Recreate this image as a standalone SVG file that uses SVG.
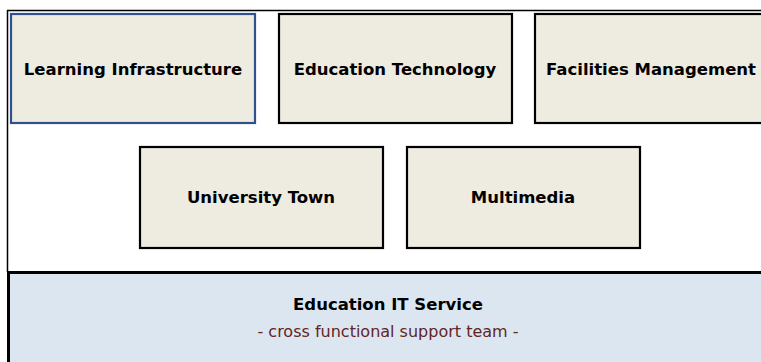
<svg xmlns="http://www.w3.org/2000/svg" width="761" height="362" viewBox="0 0 761 362">
<style>
.box{fill:#EEEBE0;stroke:#000;stroke-width:2.2}
.sel{stroke:#2F528F}
.lbl{font-family:"DejaVu Sans",Verdana,sans-serif;font-weight:bold;font-size:16.5px;fill:#000;text-anchor:middle}
.sub{font-family:"DejaVu Sans",Verdana,sans-serif;font-size:16px;fill:#632423;text-anchor:middle}
</style>
<rect width="761" height="362" fill="#fff"/>
<g id="frame">
<path d="M7 10.5 H761 M7.5 10 V272" fill="none" stroke="#000" stroke-width="1.5"/>
</g>
<g id="band">
<rect x="8.5" y="272.5" width="760" height="100" fill="#DCE6F1" stroke="#000" stroke-width="3"/>
<text class="lbl" x="388" y="310">Education IT Service</text>
<text class="sub" x="388" y="337">- cross functional support team -</text>
</g>
<g id="learning">
<rect class="box sel" x="11" y="14" width="244" height="109"/>
<text class="lbl" x="133" y="75">Learning Infrastructure</text>
</g>
<g id="edutech">
<rect class="box" x="279" y="14" width="233" height="109"/>
<text class="lbl" x="395" y="75">Education Technology</text>
</g>
<g id="facilities">
<rect class="box" x="535" y="14" width="240" height="109"/>
<text class="lbl" x="651" y="75">Facilities Management</text>
</g>
<g id="unitown">
<rect class="box" x="140" y="147" width="243" height="101"/>
<text class="lbl" x="261" y="203">University Town</text>
</g>
<g id="multimedia">
<rect class="box" x="407" y="147" width="233" height="101"/>
<text class="lbl" x="523" y="203">Multimedia</text>
</g>
<g id="connectors"></g>
</svg>
